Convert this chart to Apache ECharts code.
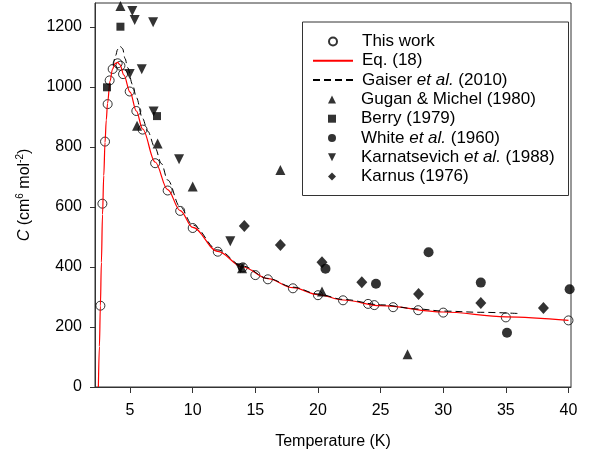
<!DOCTYPE html>
<html>
<head>
<meta charset="utf-8">
<script src="https://cdn.jsdelivr.net/npm/echarts@6/dist/echarts.min.js"></script>
<style>
  html, body { margin: 0; padding: 0; background: #fff; }
  #chart { width: 589px; height: 450px; }
</style>
</head>
<body>
<div id="chart"></div>
<script>
// Third virial coefficient C of helium vs temperature

// This work (open circles)
const thisWorkT = [2.63, 2.79, 3.0, 3.21, 3.37, 3.61, 4.01, 4.23, 4.44, 4.97, 5.5, 6.0, 7.0, 8.0, 9.0, 10.0,
                   12.0, 14.0, 15.0, 16.0, 18.0, 20.0, 22.0, 24.0, 24.5, 26.0, 28.0, 30.0, 35.0, 40.0];
const thisWorkC = [271, 611, 818, 943, 1022, 1060, 1079, 1071, 1043, 985, 920, 858, 746, 655, 587, 530,
                   451, 399, 373, 359, 329, 306, 289, 277, 273, 266, 256, 248, 232, 222];

// Eq. (18) curve
const eqT = [2.47, 2.55, 2.63, 2.71, 2.8, 2.9, 3.0, 3.1, 3.2, 3.4, 3.6, 3.8, 4.0, 4.2, 4.5, 5.0, 5.5, 6.0,
             7.0, 8.0, 9.0, 10.0, 12.0, 14.0, 16.0, 18.0, 20.0, 22.0, 25.0, 30.0, 35.0, 40.0];
const eqC = [0, 135, 270, 415, 575, 705, 815, 890, 945, 1020, 1060, 1078, 1082, 1074, 1040, 983, 920, 860,
             750, 658, 588, 532, 452, 400, 361, 331, 308, 290, 271, 250, 234, 222];

// Gaiser et al. (2010), dashed curve
const gaiserT = [3.65, 3.85, 4.0, 4.2, 4.4, 4.6, 4.8, 5.2, 5.5, 6.0, 6.4, 7.0, 7.5, 8.0, 9.0, 10.0,
                 12.0, 14.0, 16.0, 18.0, 20.0, 22.0, 25.0, 28.0, 30.0, 33.0, 36.0];
const gaiserC = [1070, 1105, 1125, 1136, 1128, 1095, 1065, 1008, 965, 895, 853, 797, 745, 690, 600, 540,
                 457, 403, 362, 333, 310, 292, 274, 260, 253, 249, 245];

// Literature values
const guganT = [4.23, 5.56, 7.2, 10.0, 13.94, 17.0, 20.32, 27.15];
const guganC = [1270, 871, 812, 668, 396, 723, 318, 109];

const berryT = [3.16, 4.23, 7.15];
const berryC = [999, 1201, 903];

const whiteT = [20.6, 24.63, 28.83, 33.0, 35.09, 40.09];
const whiteC = [394, 344, 449, 348, 181, 326];

const karnatT = [4.97, 5.18, 5.37, 5.93, 6.84, 6.88, 8.91, 13.0, 13.8];
const karnatC = [1043, 1253, 1223, 1059, 1216, 918, 759, 486, 396];

const karnusT = [14.12, 17.0, 20.32, 23.5, 28.03, 33.0, 38.0];
const karnusC = [537, 473, 416, 349, 310, 280, 263];

// Axis ticks
const xTicks = [5, 10, 15, 20, 25, 30, 35, 40];
const yTicks = [0, 200, 400, 600, 800, 1000, 1200];

const pairs = (xs, ys) => xs.map((x, i) => [x, ys[i]]);

const FONT = '"Liberation Sans", Arial, sans-serif';
const AXIS_COLOR = '#333';
const DOWN_TRIANGLE = 'path://M0,0L10,0L5,10Z';

// Shared legend text style; "et al." is set in italics
const legendText = {
  fontSize: 17, color: '#000', fontFamily: FONT, lineHeight: 19,
  rich: { i: { fontStyle: 'italic', fontSize: 17, color: '#000', fontFamily: FONT, lineHeight: 19 } }
};
const legendFormatter = name => name.replace('et al.', '{i|et al.}');
const ROW = 19.3;
const LEGEND_TOP = 32;

// Markers-only legend rows (icon centred at x = 332)
function markerLegend(names, row) {
  return {
    orient: 'vertical', left: 328, top: LEGEND_TOP + row * ROW, padding: 0,
    itemWidth: 8, itemHeight: 8, itemGap: ROW - 19,
    textStyle: Object.assign({ padding: [0, 0, 0, 20] }, legendText),
    formatter: legendFormatter,
    data: names
  };
}

const noDot = { color: 'transparent', borderColor: 'transparent', borderWidth: 0 };

const chart = echarts.init(document.getElementById('chart'), null, { renderer: 'canvas' });

chart.setOption({
  animation: false,
  backgroundColor: '#fff',
  textStyle: { fontFamily: FONT },
  grid: {
    left: 95, right: 18, top: 3, bottom: 63,
    show: true, borderColor: AXIS_COLOR, borderWidth: 1,
    outerBoundsMode: 'none'
  },
  xAxis: {
    type: 'value', min: 2.2, max: 40.2,
    name: 'Temperature (K)', nameLocation: 'middle', nameGap: 47,
    nameTextStyle: { fontSize: 16, color: '#000', fontFamily: FONT },
    axisLine: { show: true, onZero: false, lineStyle: { color: AXIS_COLOR, width: 1 } },
    axisTick: { show: true, customValues: xTicks, length: 6, lineStyle: { color: AXIS_COLOR } },
    axisLabel: { customValues: xTicks, margin: 16, fontSize: 16, color: '#000', fontFamily: FONT,
                 formatter: v => String(v) },
    splitLine: { show: false }
  },
  yAxis: {
    type: 'value', min: 0, max: 1280,
    name: '{i|C} (cm{sup|6} mol{sup|-2})', nameLocation: 'middle', nameGap: 60, nameRotate: 90,
    nameTextStyle: {
      fontSize: 16, color: '#000', fontFamily: FONT, lineHeight: 20,
      rich: {
        i: { fontStyle: 'italic', fontSize: 16, fontFamily: FONT, color: '#000', lineHeight: 20 },
        sup: { fontSize: 10, fontFamily: FONT, color: '#000', lineHeight: 10, verticalAlign: 'top' }
      }
    },
    axisLine: { show: true, onZero: false, lineStyle: { color: AXIS_COLOR, width: 1 } },
    axisTick: { show: true, customValues: yTicks, length: 5, lineStyle: { color: AXIS_COLOR } },
    axisLabel: { customValues: yTicks, margin: 13, fontSize: 16, color: '#000', fontFamily: FONT,
                 formatter: v => String(v) },
    splitLine: { show: false }
  },
  legend: [
    markerLegend(['This work'], 0),
    {
      orient: 'vertical', left: 312, top: LEGEND_TOP + ROW, padding: 0,
      itemWidth: 40, itemHeight: 8, itemGap: ROW - 19,
      textStyle: Object.assign({ padding: [0, 0, 0, 4] }, legendText),
      formatter: legendFormatter,
      data: [
        { name: 'Eq. (18)', itemStyle: noDot },
        { name: 'Gaiser et al. (2010)', itemStyle: noDot }
      ]
    },
    markerLegend([
      'Gugan & Michel (1980)',
      'Berry (1979)',
      'White et al. (1960)',
      { name: 'Karnatsevich et al. (1988)', icon: DOWN_TRIANGLE },
      'Karnus (1976)'
    ], 3)
  ],
  graphic: [{
    type: 'rect', silent: true, z: 1,
    shape: { x: 302.5, y: 22, width: 266, height: 173.5 },
    style: { fill: 'none', stroke: AXIS_COLOR, lineWidth: 1 }
  }],
  series: [
    {
      name: 'This work', type: 'scatter', symbol: 'circle', symbolSize: 9,
      itemStyle: { color: 'transparent', borderColor: '#000', borderWidth: 1 },
      data: pairs(thisWorkT, thisWorkC), z: 2
    },
    {
      name: 'Eq. (18)', type: 'line', symbol: 'none', showSymbol: false,
      smooth: 0.35, smoothMonotone: 'x',
      lineStyle: { color: '#ff0000', width: 1.2 }, itemStyle: { color: '#ff0000' },
      data: pairs(eqT, eqC), z: 3
    },
    {
      name: 'Gaiser et al. (2010)', type: 'line', symbol: 'none', showSymbol: false,
      smooth: 0.35, smoothMonotone: 'x',
      lineStyle: { color: '#000', width: 1, type: [7, 4] }, itemStyle: { color: '#000' },
      data: pairs(gaiserT, gaiserC), z: 3
    },
    {
      name: 'Gugan & Michel (1980)', type: 'scatter', symbol: 'triangle', symbolSize: 10,
      itemStyle: { color: '#000' }, data: pairs(guganT, guganC), z: 4
    },
    {
      name: 'Berry (1979)', type: 'scatter', symbol: 'rect', symbolSize: 8,
      itemStyle: { color: '#000' }, data: pairs(berryT, berryC), z: 4
    },
    {
      name: 'White et al. (1960)', type: 'scatter', symbol: 'circle', symbolSize: 10,
      itemStyle: { color: '#000' }, data: pairs(whiteT, whiteC), z: 4
    },
    {
      name: 'Karnatsevich et al. (1988)', type: 'scatter', symbol: DOWN_TRIANGLE, symbolSize: 10,
      itemStyle: { color: '#000' }, data: pairs(karnatT, karnatC), z: 4
    },
    {
      name: 'Karnus (1976)', type: 'scatter', symbol: 'diamond', symbolSize: [11, 12],
      itemStyle: { color: '#000' }, data: pairs(karnusT, karnusC), z: 4
    }
  ]
});
</script>
</body>
</html>
